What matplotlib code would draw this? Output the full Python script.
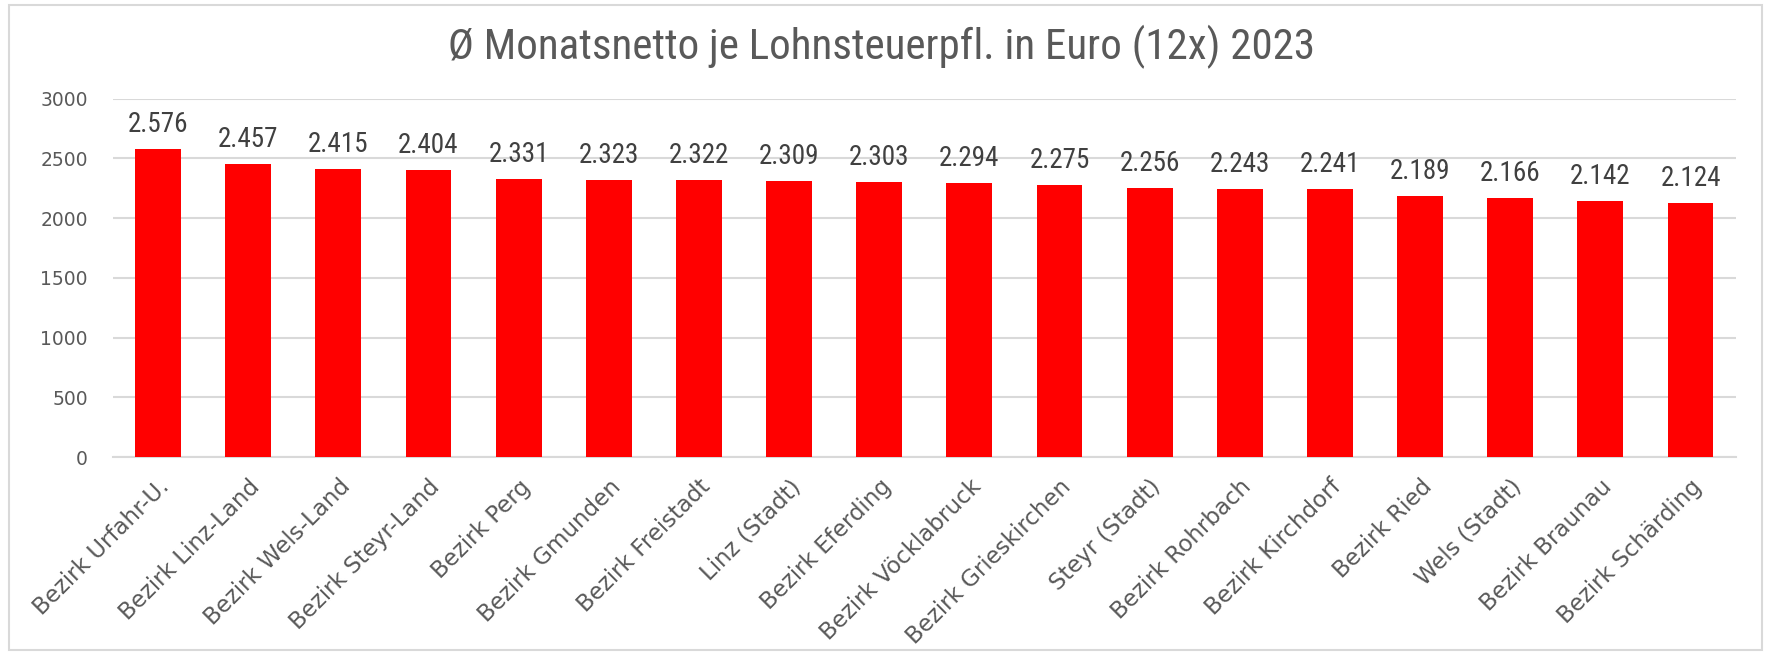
import matplotlib.pyplot as plt
from matplotlib.patches import Rectangle

# Daten
bezirke = ["Bezirk Urfahr-U.", "Bezirk Linz-Land", "Bezirk Wels-Land", "Bezirk Steyr-Land",
           "Bezirk Perg", "Bezirk Gmunden", "Bezirk Freistadt", "Linz (Stadt)",
           "Bezirk Eferding", "Bezirk Vöcklabruck", "Bezirk Grieskirchen", "Steyr (Stadt)",
           "Bezirk Rohrbach", "Bezirk Kirchdorf", "Bezirk Ried", "Wels (Stadt)",
           "Bezirk Braunau", "Bezirk Schärding"]
netto = [2576, 2457, 2415, 2404, 2331, 2323, 2322, 2309, 2303, 2294, 2275, 2256,
         2243, 2241, 2189, 2166, 2142, 2124]
y_ticks = [0, 500, 1000, 1500, 2000, 2500, 3000]
titel = "Ø Monatsnetto je Lohnsteuerpfl. in Euro (12x) 2023"

schmal = ["Roboto Condensed", "DejaVu Sans"]
grau = "#595959"

fig = plt.figure(figsize=(17.71, 6.54), dpi=100)
ax = fig.add_axes([0.0638, 0.301, 0.9162, 0.548])

x = list(range(len(bezirke)))
balken = ax.bar(x, netto, width=0.51, color="#ff0000", zorder=3)

# Werte über den Balken, mit Tausenderpunkt
for b, v in zip(balken, netto):
    ax.annotate(f"{v:,}".replace(",", "."), (b.get_x() + b.get_width() / 2, v),
                xytext=(0, 8), textcoords="offset points", ha="center", va="bottom",
                fontsize=19.5, color="#404040", family=schmal)

ax.set_xlim(-0.5, len(bezirke) - 0.5)
ax.set_ylim(0, 3000)
ax.set_yticks(y_ticks)
ax.set_xticks(x)
ax.set_xticklabels(bezirke, rotation=45, ha="right", rotation_mode="anchor")
ax.tick_params(axis="x", length=0, pad=13, labelsize=16.5, labelcolor=grau)
ax.tick_params(axis="y", length=0, pad=18, labelsize=13.5, labelcolor=grau)
ax.grid(axis="y", color="#d9d9d9", linewidth=1.5, zorder=0)
for s in ["top", "right", "left"]:
    ax.spines[s].set_visible(False)
ax.spines["bottom"].set_color("#d9d9d9")
ax.spines["bottom"].set_linewidth(1.5)

fig.text(0.4975, 0.928, titel, ha="center", va="center", fontsize=31,
         color=grau, family=schmal)

# Rahmen um das Diagramm
fig.patches.append(Rectangle((0.005, 0.006), 0.99, 0.986, transform=fig.transFigure,
                             fill=False, edgecolor="#d9d9d9", linewidth=1.5))

fig.savefig("out.png", dpi=100)
